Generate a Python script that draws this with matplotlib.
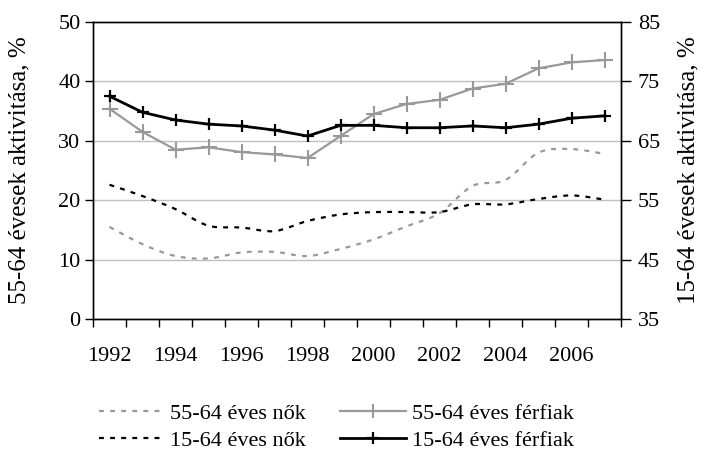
import matplotlib
matplotlib.use("Agg")
import matplotlib.pyplot as plt
from matplotlib.path import Path
from matplotlib.patches import PathPatch
from matplotlib.lines import Line2D
import numpy as np

plt.rcParams['font.family'] = ['Liberation Serif', 'DejaVu Serif']

years = list(range(1992, 2008))
tick_labels = ['1992', '1994', '1996', '1998', '2000', '2002', '2004', '2006']

# left axis (55-64)
women_55_64 = [15.5, 12.6, 10.6, 10.2, 11.2, 11.3, 10.6, 11.8, 13.4, 15.6, 17.8, 22.4, 23.4, 28.0, 28.6, 27.8]
men_55_64 = [35.4, 31.5, 28.5, 28.9, 28.1, 27.7, 27.1, 30.8, 34.5, 36.2, 36.9, 38.8, 39.6, 42.2, 43.2, 43.6]
# right axis (15-64)
women_15_64 = [57.6, 55.7, 53.5, 50.7, 50.4, 49.8, 51.5, 52.6, 53.0, 53.0, 53.0, 54.3, 54.3, 55.2, 55.8, 55.1]
men_15_64 = [72.5, 69.8, 68.5, 67.8, 67.5, 66.8, 65.8, 67.6, 67.6, 67.2, 67.2, 67.5, 67.2, 67.8, 68.8, 69.2]

labels = ['55-64 éves nők', '55-64 éves férfiak', '15-64 éves nők', '15-64 éves férfiak']

GRAY = '#999999'
FS = 16

fig = plt.figure(figsize=(7.05, 4.54), dpi=100)
ax = fig.add_axes([93/705, 1-319/454, (621-93)/705, (319-22)/454])
ax2 = ax.twinx()

x = np.arange(len(years))


def smooth_path(xs, ys):
    pts = np.column_stack([xs, ys]).astype(float)
    n = len(pts)
    verts = [pts[0]]
    codes = [Path.MOVETO]
    for i in range(n - 1):
        p0 = pts[i - 1] if i > 0 else pts[i]
        p1 = pts[i]
        p2 = pts[i + 1]
        p3 = pts[i + 2] if i + 2 < n else pts[i + 1]
        c1 = p1 + (p2 - p0) / 6.0
        c2 = p2 - (p3 - p1) / 6.0
        verts += [c1, c2, p2]
        codes += [Path.CURVE4] * 3
    return Path(np.array(verts), codes)


dot_style = (0, (2.2, 2.8))
ax.add_patch(PathPatch(smooth_path(x, women_55_64), facecolor='none', edgecolor=GRAY,
                       lw=1.6, linestyle=dot_style, zorder=3))
ax.plot(x, men_55_64, color=GRAY, lw=1.6, marker='+', ms=11, mew=1.5, zorder=4)
ax2.add_patch(PathPatch(smooth_path(x, women_15_64), facecolor='none', edgecolor='black',
                        lw=1.6, linestyle=dot_style, zorder=3))
ax2.plot(x, men_15_64, color='black', lw=2.0, marker='+', ms=8, mew=1.6, zorder=4)

ax.set_xlim(-0.5, len(years) - 0.5)
ax.set_ylim(0, 50)
ax2.set_ylim(35, 85)
ax.set_yticks([0, 10, 20, 30, 40, 50])
ax2.set_yticks([35, 45, 55, 65, 75, 85])
ax.set_xticks(x[::2])
ax.set_xticklabels(tick_labels)
ax.set_xticks(np.arange(-0.5, len(years), 1), minor=True)
ax.tick_params(axis='x', which='major', length=0, pad=20, labelsize=FS)
ax.tick_params(axis='x', which='minor', length=6, direction='out', width=1)
ax.tick_params(axis='y', length=6, direction='out', width=1, labelsize=FS, pad=3)
ax2.tick_params(axis='y', length=7, direction='out', width=1, labelsize=FS, pad=5)

for y in [10, 20, 30, 40]:
    ax.axhline(y, color='#c0c0c0', lw=1.0, zorder=1)

for a in (ax, ax2):
    for s in a.spines.values():
        s.set_linewidth(1.0)
        s.set_color('black')

ax.set_ylabel('55-64 évesek aktivitása, %', fontsize=18)
ax2.set_ylabel('15-64 évesek aktivitása, %', fontsize=18)
ax.yaxis.set_label_coords((19 - 93) / 528, 0.5)
ax2.yaxis.set_label_coords((688 - 93) / 528, 0.5)
ax.yaxis.label.set_va('center')
ax2.yaxis.label.set_va('center')

h1 = Line2D([], [], color=GRAY, lw=1.6, linestyle=dot_style)
h2 = Line2D([], [], color=GRAY, lw=1.6, marker='+', ms=10, mew=1.5)
h3 = Line2D([], [], color='black', lw=1.6, linestyle=dot_style)
h4 = Line2D([], [], color='black', lw=2.0, marker='+', ms=8, mew=1.6)
leg = fig.legend([h1, h3, h2, h4],
                 [labels[0], labels[2], labels[1], labels[3]],
                 ncol=2, loc='upper left', bbox_to_anchor=(88/705, 1-392/454), frameon=False,
                 fontsize=FS, handlelength=2.95, handletextpad=0.25, columnspacing=1.55,
                 labelspacing=0.3, borderpad=0.0)

fig.savefig('out.png', dpi=100)
